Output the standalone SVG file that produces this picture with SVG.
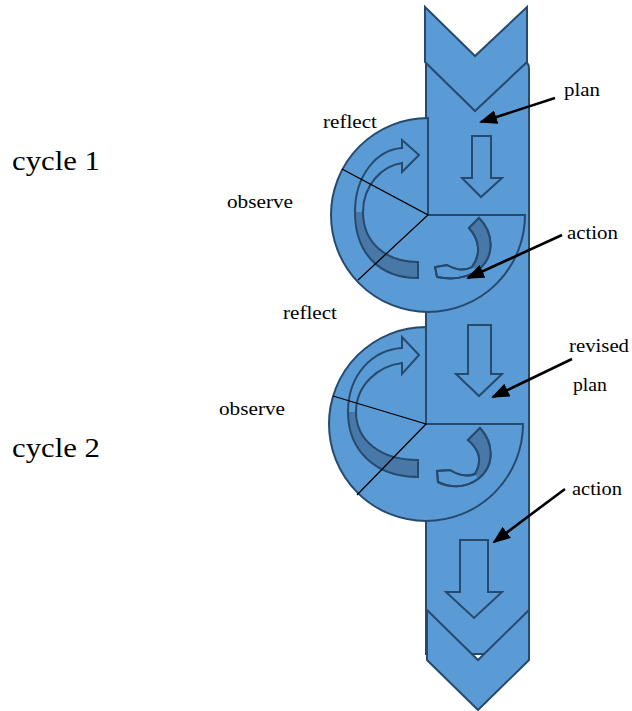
<svg xmlns="http://www.w3.org/2000/svg" width="632" height="711" viewBox="0 0 632 711">
<style>
.sh{fill:#5b9bd5;stroke:#264a6e;stroke-width:2;stroke-linejoin:miter}
.dk{fill:#4878a8;stroke:none}
.ol{fill:none;stroke:#264a6e;stroke-width:2}
.thin{stroke:#000;stroke-width:1.3;fill:none}
.lead{stroke:#000;stroke-width:2.6;fill:none;marker-end:url(#ah)}
.lb{font-size:19px}
.cy{font-size:27px}
</style>
<defs>
<marker id="ah" markerUnits="userSpaceOnUse" markerWidth="18" markerHeight="14" refX="16" refY="7" orient="auto">
<path d="M0,0 L18,7 L0,14 Z" fill="#000"/>
</marker>
</defs>
<g id="band">
<path class="sh" d="M426,654 L426,60 L520,60 Q529,60 529,69 L529,654 Z"/>
</g>
<g id="top-chevron">
<path class="sh" d="M425,7 L475,56 L527,7 L527,62 L475,111 L425,62 Z"/>
</g>
<g id="cycle1-circle">
<path class="sh" d="M428,118 A97,97 0 1,0 525,215 L428,215 Z"/>
<path d="M418,278 C378,278 355,252 355,212 C355,176 376,150 402,148 L402,140 L419,155 L402,172 L402,163 C382,166 363,185 363,212 C363,242 385,262 418,262 Z" fill="#5b9bd5"/>
<path class="dk" d="M418,278 C378,278 355,252 355,212 L363,212 C363,242 385,262 418,262 Z"/>
<path class="ol" d="M418,278 C378,278 355,252 355,212 C355,176 376,150 402,148 L402,140 L419,155 L402,172 L402,163 C382,166 363,185 363,212 C363,242 385,262 418,262 Z"/>
<path class="sh" d="M469,228 L479,218 C493,232 496,256 478,270 C467,278 452,280 437,277 L435,267 L447,265 C456,270 465,271 472,267 C481,255 480,240 469,228 Z"/>
<path class="dk" d="M469,228 L479,218 C493,232 496,256 478,270 L472,267 C481,255 480,240 469,228 Z"/>
<path class="ol" d="M469,228 L479,218 C493,232 496,256 478,270 C467,278 452,280 437,277 L435,267 L447,265 C456,270 465,271 472,267 C481,255 480,240 469,228 Z"/>
</g>
<g id="cycle2-circle">
<path class="sh" d="M426,327 A97,97 0 1,0 523,424 L426,424 Z"/>
<path d="M418,477 C375,477 348,450 348,412 C348,375 372,350 402,348 L402,337 L419,355 L402,374 L402,363 C378,366 356,385 356,412 C356,440 380,460 418,460 Z" fill="#5b9bd5"/>
<path class="dk" d="M418,477 C375,477 348,450 348,412 L356,412 C356,440 380,460 418,460 Z"/>
<path class="ol" d="M418,477 C375,477 348,450 348,412 C348,375 372,350 402,348 L402,337 L419,355 L402,374 L402,363 C378,366 356,385 356,412 C356,440 380,460 418,460 Z"/>
<path class="sh" d="M468,440 L480,428 C493,442 496,465 478,479 C467,487 452,489 438,482 L437,471 L450,470 C458,475 467,477 475,474 C482,462 480,450 468,440 Z"/>
<path class="dk" d="M468,440 L480,428 C493,442 496,465 478,479 L475,474 C482,462 480,450 468,440 Z"/>
<path class="ol" d="M468,440 L480,428 C493,442 496,465 478,479 C467,487 452,489 438,482 L437,471 L450,470 C458,475 467,477 475,474 C482,462 480,450 468,440 Z"/>
</g>
<g id="down-arrow-1">
<path class="sh" d="M472,136 L491,136 L491,178 L502,178 L481,197 L462,178 L472,178 Z"/>
</g>
<g id="down-arrow-2">
<path class="sh" d="M468,325 L491,325 L491,374 L502,374 L479,396 L456,374 L468,374 Z"/>
</g>
<g id="down-arrow-3">
<path class="sh" d="M460,540 L488,540 L488,592 L502,592 L474,618 L446,592 L460,592 Z"/>
</g>
<g id="bottom-chevron">
<path class="sh" d="M427,610 L478,660 L529,610 L529,660 L478,710 L427,660 Z"/>
</g>
<g id="connectors">
<path class="thin" d="M342,169 L428,215 L358,280"/>
<path class="thin" d="M333,396 L426,424 L357,495"/>
<path class="lead" d="M555,98 L481,122"/>
<path class="lead" d="M562,235 L468,278"/>
<path class="lead" d="M572,359 L493,397"/>
<path class="lead" d="M565,489 L494,542"/>
</g>
<g id="labels" font-family="'Liberation Serif', 'DejaVu Serif', serif" fill="#000">
<text class="cy" x="12" y="170" textLength="88" lengthAdjust="spacingAndGlyphs">cycle 1</text>
<text class="cy" x="12" y="457" textLength="88" lengthAdjust="spacingAndGlyphs">cycle 2</text>
<text class="lb" x="323" y="128" textLength="54" lengthAdjust="spacingAndGlyphs">reflect</text>
<text class="lb" x="227" y="208" textLength="66" lengthAdjust="spacingAndGlyphs">observe</text>
<text class="lb" x="283" y="319" textLength="54" lengthAdjust="spacingAndGlyphs">reflect</text>
<text class="lb" x="219" y="415" textLength="66" lengthAdjust="spacingAndGlyphs">observe</text>
<text class="lb" x="564" y="96" textLength="36" lengthAdjust="spacingAndGlyphs">plan</text>
<text class="lb" x="567" y="239" textLength="51" lengthAdjust="spacingAndGlyphs">action</text>
<text class="lb" x="569" y="352" textLength="60" lengthAdjust="spacingAndGlyphs">revised</text>
<text class="lb" x="573" y="391" textLength="34" lengthAdjust="spacingAndGlyphs">plan</text>
<text class="lb" x="572" y="495" textLength="50" lengthAdjust="spacingAndGlyphs">action</text>
</g>
</svg>
